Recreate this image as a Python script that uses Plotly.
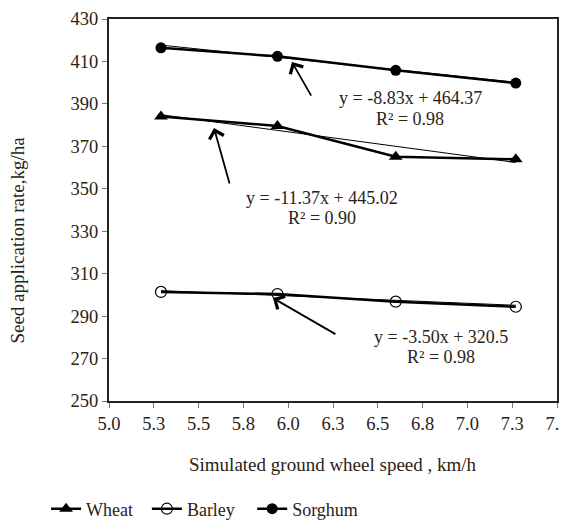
import plotly.graph_objects as go

# ---- data ----
speed = [5.29, 5.94, 6.60, 7.27]
wheat = [384.0, 379.6, 365.1, 363.9]
barley = [301.4, 300.4, 296.8, 294.4]
sorghum = [416.4, 412.4, 405.8, 399.8]

trend_x = [5.29, 7.27]
wheat_trend = [384.9, 362.4]
barley_trend = [302.0, 295.1]
sorghum_trend = [417.7, 400.2]

x_tickvals = [5.0, 5.25, 5.5, 5.75, 6.0, 6.25, 6.5, 6.75, 7.0, 7.25, 7.5]
x_ticktext = ["5.0", "5.3", "5.5", "5.8", "6.0", "6.3", "6.5", "6.8", "7.0", "7.3", "7.5"]
y_tickvals = [250, 270, 290, 310, 330, 350, 370, 390, 410, 430]

eq_labels = [
    ("y = -8.83x + 464.37", 6.68, 392.8),
    ("R² = 0.98", 6.68, 383.0),
    ("y = -11.37x + 445.02", 6.19, 345.6),
    ("R² = 0.90", 6.19, 336.0),
    ("y = -3.50x + 320.5", 6.85, 280.1),
    ("R² = 0.98", 6.85, 270.7),
]
# arrows: (head_x, head_y, tail_x, tail_y)
arrows = [
    (6.021, 409.7, 6.133, 393.2),
    (5.586, 378.6, 5.675, 351.8),
    (5.915, 298.5, 6.272, 281.1),
]

FONT = "Liberation Serif"
TXT = "#2b2218"
LINE = "#000000"

fig = go.Figure()

for ty in [wheat_trend, barley_trend, sorghum_trend]:
    fig.add_trace(go.Scatter(x=trend_x, y=ty, mode="lines",
                             line=dict(color=LINE, width=1), showlegend=False,
                             hoverinfo="skip"))

fig.add_trace(go.Scatter(x=speed, y=wheat, name="Wheat", mode="lines+markers",
                         legend="legend",
                         line=dict(color=LINE, width=2.5),
                         marker=dict(symbol="triangle-up", size=12, color=LINE)))
fig.add_trace(go.Scatter(x=speed, y=barley, name="Barley", mode="lines+markers",
                         legend="legend2",
                         line=dict(color=LINE, width=2.5),
                         marker=dict(symbol="circle-open", size=11, color=LINE,
                                     line=dict(width=1.2, color=LINE))))
fig.add_trace(go.Scatter(x=speed, y=sorghum, name="Sorghum", mode="lines+markers",
                         legend="legend3",
                         line=dict(color=LINE, width=2.5),
                         marker=dict(symbol="circle", size=11, color=LINE)))

annotations = []
for text, x, y in eq_labels:
    annotations.append(dict(x=x, y=y, xref="x", yref="y", text=text, showarrow=False,
                            xanchor="center", yanchor="middle",
                            font=dict(family=FONT, size=18, color=TXT)))
for hx, hy, tx, ty in arrows:
    annotations.append(dict(x=hx, y=hy, ax=tx, ay=ty, xref="x", yref="y",
                            axref="x", ayref="y", text="", showarrow=True,
                            arrowhead=4, arrowsize=1.6, arrowwidth=1.8,
                            arrowcolor=LINE, standoff=0))
annotations.append(dict(x=0.5, y=-0.165, xref="paper", yref="paper",
                        xanchor="center", yanchor="middle",
                        text="Simulated ground wheel speed , km/h", showarrow=False,
                        font=dict(family=FONT, size=19, color=TXT)))
annotations.append(dict(x=-0.203, y=0.42, xref="paper", yref="paper",
                        xanchor="center", yanchor="middle",
                        text="Seed application rate,kg/ha", showarrow=False, textangle=-90,
                        font=dict(family=FONT, size=19, color=TXT)))

leg_common = dict(orientation="h", y=0.0215, xref="container", yref="container",
                  xanchor="left", yanchor="middle",
                  font=dict(family=FONT, size=18, color=TXT), itemwidth=30,
                  bgcolor="rgba(0,0,0,0)")

fig.update_layout(
    width=560, height=512,
    margin=dict(l=101, r=11, t=11, b=119, autoexpand=False),
    paper_bgcolor="white", plot_bgcolor="white",
    font=dict(family=FONT, size=18, color=TXT),
    showlegend=True,
    legend=dict(x=0.068, **leg_common),
    legend2=dict(x=0.248, **leg_common),
    legend3=dict(x=0.436, **leg_common),
    annotations=annotations,
)
fig.update_xaxes(range=[5.0, 7.5], tickvals=x_tickvals, ticktext=x_ticktext,
                 showgrid=False, zeroline=False, showline=True, linecolor="#222",
                 linewidth=2, mirror=True, ticks="outside", ticklen=5, tickcolor="#777",
                 automargin=False, ticklabeloverflow="allow",
                 tickfont=dict(family=FONT, size=18.5, color=TXT))
fig.update_yaxes(range=[250, 430], tickvals=y_tickvals,
                 showgrid=False, zeroline=False, showline=True, linecolor="#222",
                 linewidth=2, mirror=True, ticks="outside", ticklen=5, tickcolor="#777",
                 automargin=False, ticklabeloverflow="allow",
                 tickfont=dict(family=FONT, size=18.5, color=TXT))

fig.write_html("out.html")
